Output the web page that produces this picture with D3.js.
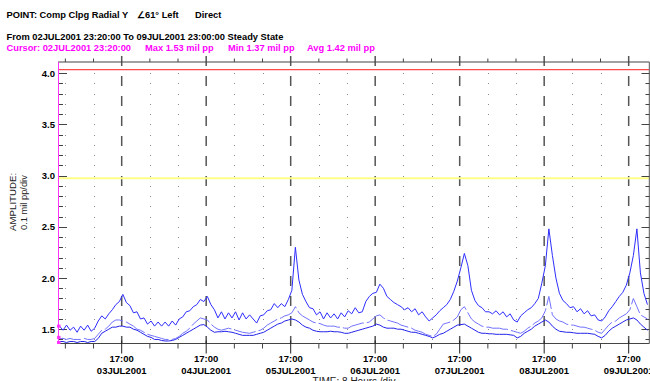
<!DOCTYPE html>
<html>
<head>
<meta charset="utf-8">
<script src="https://cdn.jsdelivr.net/npm/d3@7"></script>
<style>
  body { margin: 0; background: #fff; }
  svg { display: block; }
  text { font-family: "Liberation Sans", Arial, sans-serif; }
</style>
</head>
<body>
<div id="graph"></div>
<script>
// samples are hourly, first one at the cursor time
var sampleStart = new Date(Date.UTC(2001, 6, 2, 23, 20));
var rangeEnd = new Date(Date.UTC(2001, 6, 9, 23, 0));

var maxValues = [
  1.53,1.49,1.54,1.49,1.52,1.47,1.53,1.49,1.54,1.48,
  1.51,1.58,1.63,1.60,1.65,1.69,1.74,1.77,1.84,1.76,
  1.73,1.66,1.67,1.60,1.61,1.55,1.58,1.53,1.57,1.53,
  1.57,1.53,1.58,1.54,1.60,1.62,1.67,1.68,1.72,1.74,
  1.79,1.77,1.82,1.74,1.69,1.61,1.67,1.60,1.66,1.61,
  1.67,1.59,1.66,1.60,1.64,1.60,1.56,1.63,1.64,1.68,
  1.69,1.75,1.71,1.75,1.72,1.79,1.88,2.30,1.98,1.84,
  1.77,1.71,1.70,1.64,1.67,1.60,1.66,1.61,1.65,1.60,
  1.66,1.62,1.68,1.65,1.71,1.66,1.67,1.77,1.82,1.85,
  1.86,1.94,1.90,1.82,1.79,1.76,1.74,1.72,1.69,1.71,
  1.67,1.70,1.64,1.67,1.62,1.58,1.61,1.64,1.68,1.71,
  1.74,1.79,1.87,1.97,2.10,2.24,2.12,1.88,1.78,1.73,
  1.71,1.67,1.67,1.65,1.68,1.64,1.67,1.62,1.65,1.59,
  1.57,1.63,1.66,1.69,1.71,1.75,1.80,1.95,2.12,2.48,
  2.22,2.00,1.85,1.78,1.75,1.71,1.72,1.67,1.70,1.65,
  1.68,1.63,1.64,1.59,1.58,1.62,1.68,1.72,1.77,1.82,
  1.86,1.93,2.05,2.22,2.48,2.05,1.85,1.74
];
var avgValues = [
  1.41,1.41,1.40,1.41,1.40,1.40,1.40,1.41,1.40,1.40,
  1.41,1.45,1.49,1.50,1.53,1.57,1.59,1.59,1.58,1.57,
  1.55,1.53,1.50,1.49,1.47,1.45,1.44,1.43,1.42,1.41,
  1.40,1.40,1.40,1.41,1.43,1.46,1.48,1.51,1.55,1.58,
  1.61,1.60,1.59,1.55,1.52,1.50,1.49,1.50,1.51,1.50,
  1.49,1.48,1.47,1.465,1.46,1.47,1.48,1.49,1.51,1.54,
  1.56,1.58,1.60,1.61,1.63,1.64,1.66,1.72,1.66,1.63,
  1.61,1.59,1.57,1.56,1.555,1.54,1.53,1.53,1.53,1.52,
  1.52,1.51,1.51,1.53,1.54,1.55,1.56,1.56,1.57,1.60,
  1.63,1.64,1.61,1.59,1.58,1.57,1.56,1.54,1.53,1.52,
  1.51,1.49,1.48,1.47,1.45,1.44,1.43,1.45,1.50,1.55,
  1.56,1.57,1.59,1.62,1.69,1.72,1.66,1.60,1.57,1.55,
  1.53,1.52,1.52,1.51,1.51,1.51,1.50,1.50,1.49,1.48,
  1.47,1.46,1.48,1.51,1.53,1.56,1.58,1.61,1.68,1.82,
  1.64,1.60,1.58,1.57,1.55,1.54,1.54,1.53,1.52,1.52,
  1.51,1.50,1.49,1.47,1.46,1.50,1.54,1.57,1.58,1.61,
  1.63,1.65,1.69,1.80,1.72,1.64,1.62,1.60
];
var minValues = [
  1.38,1.38,1.37,1.38,1.38,1.37,1.38,1.38,1.37,1.38,
  1.38,1.41,1.46,1.48,1.50,1.52,1.52,1.53,1.53,1.52,
  1.52,1.50,1.49,1.47,1.45,1.43,1.42,1.40,1.40,1.39,
  1.385,1.385,1.39,1.40,1.42,1.44,1.46,1.48,1.50,1.52,
  1.54,1.545,1.52,1.49,1.47,1.475,1.475,1.48,1.475,1.47,
  1.46,1.45,1.44,1.44,1.44,1.44,1.45,1.46,1.47,1.49,
  1.51,1.53,1.55,1.56,1.58,1.59,1.60,1.59,1.57,1.54,
  1.52,1.51,1.49,1.48,1.475,1.475,1.475,1.48,1.475,1.475,
  1.47,1.46,1.46,1.47,1.48,1.49,1.50,1.51,1.52,1.53,
  1.55,1.54,1.52,1.51,1.51,1.51,1.50,1.50,1.49,1.48,
  1.47,1.47,1.46,1.45,1.44,1.43,1.415,1.43,1.45,1.46,
  1.48,1.50,1.52,1.54,1.545,1.55,1.53,1.51,1.49,1.47,
  1.46,1.46,1.455,1.455,1.45,1.45,1.45,1.45,1.445,1.44,
  1.415,1.43,1.46,1.48,1.50,1.53,1.55,1.57,1.59,1.57,
  1.53,1.50,1.48,1.475,1.47,1.47,1.465,1.46,1.46,1.46,
  1.46,1.455,1.45,1.43,1.415,1.44,1.48,1.51,1.53,1.55,
  1.57,1.59,1.60,1.61,1.59,1.55,1.52,1.49
];

var yLabels = [1.5, 2.0, 2.5, 3.0, 3.5, 4.0];
var alarmLevels = [4.035, 2.975];          // red, yellow
var cursorValues = [1.53, 1.42, 1.37];     // max, avg, min at the cursor
var dayTicks = ["2001-07-03T17:00", "2001-07-04T17:00", "2001-07-05T17:00", "2001-07-06T17:00",
                "2001-07-07T17:00", "2001-07-08T17:00", "2001-07-09T17:00"];

var W = 650, H = 381;
var pLeft = 58, pRight = 649.5, pTop = 62, pBottom = 343.5;

var svg = d3.select("#graph").append("svg")
    .attr("width", W).attr("height", H);

var x = d3.scaleUtc().domain([sampleStart, rangeEnd]).range([59.5, 649.8]);
var y = d3.scaleLinear().domain([1.5, 4.0]).range([329.2, 73.2]);

var parse = d3.utcParse("%Y-%m-%dT%H:%M");
var majors = dayTicks.map(parse);
var eightHours = d3.utcHour.range(new Date(Date.UTC(2001, 6, 3, 1)), rangeEnd, 8);
var minors = eightHours.filter(function(d){ return d.getUTCHours() != 17; });
var yMinor = d3.range(14, 41).map(function(d){ return d / 10; });

// header text
function txt(s, tx, ty, col) {
    return svg.append("text").attr("x", tx).attr("y", ty).text(s)
        .style("font-size", "9.3px").style("font-weight", "bold").attr("fill", col);
}
txt("POINT: Comp Clpg Radial Y", 6.5, 18, "#000");
txt("\u222061\u00b0 Left", 137, 18, "#000");
txt("Direct", 195, 18, "#000");
txt("From 02JUL2001 23:20:00 To 09JUL2001 23:00:00 Steady State", 6.5, 39.5, "#000");
var fmtCursor = d3.utcFormat("%d");
txt("Cursor: " + fmtCursor(sampleStart) + "JUL2001 23:20:00", 6.5, 51, "#ff00ff");
txt("Max " + cursorValues[0].toFixed(2) + " mil pp", 145, 51, "#ff00ff");
txt("Min " + cursorValues[2].toFixed(2) + " mil pp", 228, 51, "#ff00ff");
txt("Avg " + cursorValues[1].toFixed(2) + " mil pp", 307, 51, "#ff00ff");

// dotted grid at the 8 hour divisions
var dots = [];
minors.forEach(function(d){
    yMinor.forEach(function(v){ dots.push([d, v]); });
});
svg.append("g").selectAll("rect").data(dots).enter().append("rect")
    .attr("x", function(d){ return Math.round(x(d[0])); })
    .attr("y", function(d){ return Math.round(y(d[1])); })
    .attr("width", 1).attr("height", 1)
    .attr("fill", "#8a8a8a");

// dashed day lines
svg.append("g").selectAll("line").data(majors).enter().append("line")
    .attr("x1", function(d){ return x(d); }).attr("x2", function(d){ return x(d); })
    .attr("y1", 56).attr("y2", pBottom)
    .attr("stroke", "#555").attr("stroke-width", 1.5)
    .attr("stroke-dasharray", "10,10");

// alarm lines
svg.append("line").attr("x1", pLeft).attr("x2", pRight)
    .attr("y1", y(alarmLevels[0])).attr("y2", y(alarmLevels[0]))
    .attr("stroke", "#ff4a4a").attr("stroke-width", 1.3);
svg.append("line").attr("x1", pLeft).attr("x2", pRight)
    .attr("y1", y(alarmLevels[1])).attr("y2", y(alarmLevels[1]))
    .attr("stroke", "#ffff88").attr("stroke-width", 2);

// frame
svg.append("line").attr("x1", pLeft).attr("x2", pRight).attr("y1", pTop).attr("y2", pTop)
    .attr("stroke", "#444");
svg.append("line").attr("x1", pLeft).attr("x2", pRight).attr("y1", pBottom).attr("y2", pBottom)
    .attr("stroke", "#444");
svg.append("line").attr("x1", pRight).attr("x2", pRight).attr("y1", pTop).attr("y2", pBottom)
    .attr("stroke", "#777").attr("stroke-width", 1.5);

// top ticks
svg.append("g").selectAll("line").data(minors).enter().append("line")
    .attr("x1", function(d){ return x(d); }).attr("x2", function(d){ return x(d); })
    .attr("y1", pTop - 3.5).attr("y2", pTop)
    .attr("stroke", "#444");

// y ticks left and right
var isMajorY = function(v){ return Math.abs(v * 2 - Math.round(v * 2)) < 1e-6; };
svg.append("g").selectAll("line").data(yMinor).enter().append("line")
    .attr("x1", pLeft).attr("x2", function(v){ return pLeft + (isMajorY(v) ? 9 : 5); })
    .attr("y1", function(v){ return Math.round(y(v)) + 0.5; })
    .attr("y2", function(v){ return Math.round(y(v)) + 0.5; })
    .attr("stroke", "#444");
svg.append("g").selectAll("line").data(yMinor).enter().append("line")
    .attr("x1", pRight).attr("x2", function(v){ return pRight - (isMajorY(v) ? 8 : 4); })
    .attr("y1", function(v){ return Math.round(y(v)) + 0.5; })
    .attr("y2", function(v){ return Math.round(y(v)) + 0.5; })
    .attr("stroke", "#444");

svg.append("g").selectAll("text").data(yLabels).enter().append("text")
    .attr("x", 55).attr("y", function(v){ return y(v) + 3.5; })
    .attr("text-anchor", "end")
    .style("font-size", "9.5px").style("font-weight", "bold")
    .text(function(v){ return v.toFixed(1); });

// bottom ticks
svg.append("g").selectAll("line").data(minors).enter().append("line")
    .attr("x1", function(d){ return x(d); }).attr("x2", function(d){ return x(d); })
    .attr("y1", pBottom).attr("y2", pBottom + 5)
    .attr("stroke", "#444");
svg.append("g").selectAll("line").data(majors).enter().append("line")
    .attr("x1", function(d){ return x(d); }).attr("x2", function(d){ return x(d); })
    .attr("y1", pBottom - 3).attr("y2", pBottom + 10)
    .attr("stroke", "#222");

var fmtHour = d3.utcFormat("%H:%M");
var fmtDay = d3.utcFormat("%d");
var xl = svg.append("g").selectAll("g").data(majors).enter().append("g");
xl.append("text")
    .attr("x", function(d){ return x(d); }).attr("y", 362)
    .attr("text-anchor", "middle")
    .style("font-size", "9.5px").style("font-weight", "bold")
    .text(function(d){ return fmtHour(d); });
xl.append("text")
    .attr("x", function(d){ return x(d); }).attr("y", 373.5)
    .attr("text-anchor", "middle")
    .style("font-size", "9.5px").style("font-weight", "bold")
    .text(function(d){ return fmtDay(d) + "JUL2001"; });

svg.append("text").attr("x", 354).attr("y", 385)
    .attr("text-anchor", "middle")
    .style("font-size", "10px").attr("fill", "#222")
    .text("TIME: 8 Hours /div");

// y title
svg.append("text").attr("transform", "translate(16,231) rotate(-90)")
    .style("font-size", "9.7px").attr("fill", "#222")
    .text("AMPLITUDE:");
svg.append("text").attr("transform", "translate(27,230) rotate(-90)")
    .style("font-size", "9.3px").attr("fill", "#222")
    .text("0.1 mil pp/div");

// series
svg.append("clipPath").attr("id", "plot").append("rect")
    .attr("x", pLeft).attr("y", pTop).attr("width", pRight - pLeft).attr("height", pBottom - pTop);

function series(vals) {
    return vals.map(function(v, i){ return { t: d3.utcHour.offset(sampleStart, i), v: v }; });
}
var line = d3.line().x(function(d){ return x(d.t); }).y(function(d){ return y(d.v); });

var plot = svg.append("g").attr("clip-path", "url(#plot)");
plot.append("path").datum(series(minValues)).attr("d", line)
    .attr("fill", "none").attr("stroke", "#2323ea").attr("stroke-width", 1);
plot.append("path").datum(series(avgValues)).attr("d", line)
    .attr("fill", "none").attr("stroke", "#7171ff").attr("stroke-width", 1)
    .attr("stroke-dasharray", "22,3");
plot.append("path").datum(series(maxValues)).attr("d", line)
    .attr("fill", "none").attr("stroke", "#2e2eff").attr("stroke-width", 1);

// magenta cursor
svg.append("line").attr("x1", pLeft + 0.5).attr("x2", pLeft + 0.5).attr("y1", pTop).attr("y2", pBottom)
    .attr("stroke", "#ff33ff");
svg.append("g").selectAll("rect").data(cursorValues).enter().append("rect")
    .attr("x", pLeft - 1).attr("y", function(v){ return y(v) - 1.5; })
    .attr("width", 3.5).attr("height", 3)
    .attr("fill", "#ff33ff");
</script>
</body>
</html>
